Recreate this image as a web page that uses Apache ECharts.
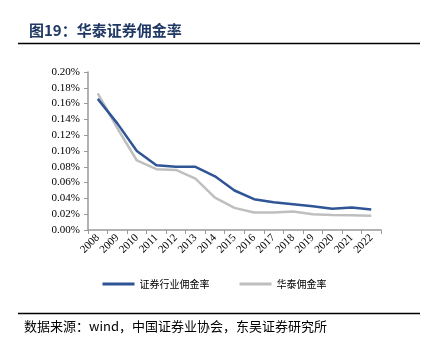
<!DOCTYPE html>
<html>
<head>
<meta charset="utf-8">
<script src="https://cdn.jsdelivr.net/npm/echarts@6/dist/echarts.min.js"></script>
<style>
html,body{margin:0;padding:0;background:#fff;}
#main{width:429px;height:352px;}
</style>
</head>
<body>
<div id="main"></div>
<script>
// 年份
var years = ['2008','2009','2010','2011','2012','2013','2014','2015','2016','2017','2018','2019','2020','2021','2022']
// 证券行业佣金率 (%)
var industryRate = [0.166,0.135,0.100,0.082,0.080,0.080,0.068,0.050,0.039,0.035,0.0325,0.030,0.027,0.0285,0.026]
// 华泰佣金率 (%)
var huataiRate = [0.173,0.129,0.088,0.077,0.076,0.065,0.041,0.028,0.0222,0.0222,0.0235,0.020,0.019,0.0186,0.018]

var serifFont = '"Liberation Serif","Times New Roman",serif'
var cjkFont = '"Noto Sans CJK SC",sans-serif'

var myChart = echarts.init(document.getElementById('main'))
myChart.setOption({
    animation: false,
    color: ['#2F5597', '#BFBFBF'],
    title: {
        text: '图19：华泰证券佣金率',
        left: 24,
        top: 18,
        textStyle: {
            fontFamily: cjkFont,
            fontSize: 15,
            fontWeight: 'bold',
            color: '#1F3864'
        }
    },
    graphic: [
        {type: 'line', shape: {x1: 18, y1: 43.5, x2: 420, y2: 43.5}, style: {stroke: '#000', lineWidth: 1.5}},
        {type: 'line', shape: {x1: 18, y1: 313.5, x2: 420, y2: 313.5}, style: {stroke: '#000', lineWidth: 1.5}},
        {
            type: 'text', left: 24, top: 320,
            style: {
                text: '数据来源：wind，中国证券业协会，东吴证券研究所',
                font: '13px ' + cjkFont,
                fill: '#000'
            }
        }
    ],
    legend: {
        top: 274,
        left: 'center',
        itemWidth: 32,
        itemHeight: 3,
        itemGap: 30,
        icon: 'rect',
        textStyle: {fontFamily: cjkFont, fontSize: 10, color: '#000'},
        data: ['证券行业佣金率', '华泰佣金率']
    },
    grid: {
        left: 88,
        top: 72,
        right: 48,
        bottom: 122,
        containLabel: false
    },
    xAxis: {
        type: 'category',
        data: years,
        boundaryGap: true,
        axisLine: {lineStyle: {color: '#999', width: 1.5}},
        axisTick: {show: true, length: 4, lineStyle: {color: '#999'}},
        axisLabel: {
            interval: 0,
            rotate: 45,
            margin: 6,
            color: '#000',
            fontFamily: serifFont,
            fontSize: 11
        }
    },
    yAxis: {
        type: 'value',
        min: 0,
        max: 0.2,
        interval: 0.02,
        splitLine: {show: false},
        axisLine: {show: true, lineStyle: {color: '#999', width: 1.5}},
        axisTick: {show: true, length: 4, lineStyle: {color: '#999'}},
        axisLabel: {
            color: '#000',
            fontFamily: serifFont,
            fontSize: 11,
            margin: 8,
            formatter: function (value) {
                return value.toFixed(2) + '%'
            }
        }
    },
    series: [
        {
            name: '证券行业佣金率',
            type: 'line',
            data: industryRate,
            symbol: 'none',
            lineStyle: {width: 2.5},
            z: 3
        },
        {
            name: '华泰佣金率',
            type: 'line',
            data: huataiRate,
            symbol: 'none',
            lineStyle: {width: 2.5},
            z: 2
        }
    ]
})
</script>
</body>
</html>
